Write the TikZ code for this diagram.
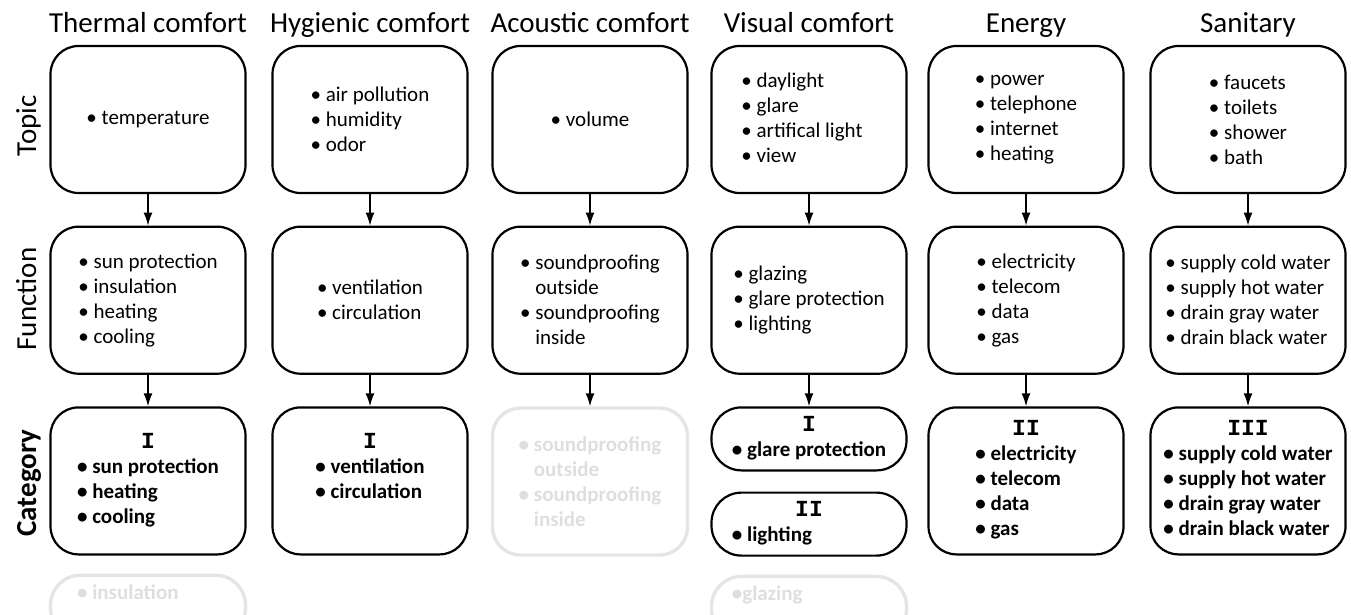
\documentclass[tikz,border=0pt]{standalone}
\usepackage{fontspec}
\setmainfont{Carlito}
\newfontfamily\romanfont{Liberation Mono}
\usetikzlibrary{arrows.meta,positioning}

\newcommand{\rnum}[1]{\multicolumn{1}{@{}c@{}}{\romanfont\bfseries\fontsize{23}{25}\selectfont #1}}

\begin{document}
\begin{tikzpicture}[x=1pt,y=-1pt,
    box/.style={draw,line width=2.2pt,rounded corners=28pt,minimum width=195pt,minimum height=147pt,align=left,font=\fontsize{21}{25}\selectfont},
    catbox/.style={box,font=\fontsize{21}{25}\selectfont\bfseries},
    pill/.style={catbox,minimum height=63pt,rounded corners=30pt},
    ghost/.style={draw=black!10,text=black!13,line width=3.4pt},
    head/.style={anchor=base,font=\fontsize{29}{32}\selectfont},
    rowlabel/.style={anchor=base,rotate=90,font=\fontsize{29}{32}\selectfont},
    flow/.style={line width=1.5pt,-{Latex[length=13pt,width=9pt]}},
    node distance=31.5pt]

    \clip (0,0) rectangle (1351,614);

    % Headers
    \node[head] (h1) at (148,32) {Thermal comfort};
    \node[head] (h2) at (370,32) {Hygienic comfort};
    \node[head] (h3) at (590,32) {Acoustic comfort};
    \node[head] (h4) at (809,32) {Visual comfort};
    \node[head] (h5) at (1026,32) {Energy};
    \node[head] (h6) at (1248,32) {Sanitary};

    % Row labels
    \node[rowlabel] (lt) at (36,126) {Topic};
    \node[rowlabel] (lf) at (36,299) {Function};
    \node[rowlabel,font=\fontsize{29}{32}\selectfont\bfseries] (lc) at (36,483) {Category};

    % Topics
    \node[box] (t1) at (148,119.5) {• temperature};
    \node[box] (t2) at (370,119.5) {• air pollution\\• humidity\\• odor};
    \node[box] (t3) at (590,119.5) {• volume};
    \node[box] (t4) at (809,119.5) {\hspace*{-14pt}\begin{tabular}{@{}l@{}}• daylight\\• glare\\• artifical light\\• view\end{tabular}};
    \node[box] (t5) at (1026,119.5) {• power\\• telephone\\• internet\\• heating};
    \node[box] (t6) at (1248,119.5) {• faucets\\• toilets\\• shower\\• bath};

    % Functions
    \node[box,below=of t1] (f1) {• sun protection\\• insulation\\• heating\\• cooling};
    \node[box,below=of t2] (f2) {• ventilation\\• circulation};
    \node[box,below=of t3] (f3) {• soundproofing\\\phantom{• }outside\\• soundproofing\\\phantom{• }inside};
    \node[box,below=of t4] (f4) {• glazing\\• glare protection\\• lighting};
    \node[box,below=of t5] (f5) {• electricity\\• telecom\\• data\\• gas};
    \node[box,below=of t6] (f6) {• supply cold water\\• supply hot water\\• drain gray water\\• drain black water};

    % Categories
    \node[catbox,below=of f1] (c1) {\begin{tabular}{@{}l@{}}\rnum{I}\\• sun protection\\• heating\\• cooling\end{tabular}};
    \node[catbox,below=of f2] (c2) {\begin{tabular}{@{}l@{}}\rnum{I}\\• ventilation\\• circulation\\\mbox{}\end{tabular}};
    \node[catbox,ghost,below=of f3] (c3) {• soundproofing\\\phantom{• }outside\\• soundproofing\\\phantom{• }inside};
    \node[pill,below=of f4] (c4) {\begin{tabular}{@{}l@{}}\rnum{I}\\• glare protection\end{tabular}};
    \node[pill,below=20pt of c4] (c4b) {\begin{tabular}{@{}l@{}}\rnum{II}\\\rlap{• lighting}\phantom{• glare protection}\end{tabular}};
    \node[catbox,below=of f5] (c5) {\begin{tabular}{@{}l@{}}\rnum{II}\\• electricity\\• telecom\\• data\\• gas\end{tabular}};
    \node[catbox,below=of f6] (c6) {\begin{tabular}{@{}l@{}}\rnum{III}\\• supply cold water\\• supply hot water\\• drain gray water\\• drain black water\end{tabular}};

    % Left out
    \node[pill,ghost,below=18pt of c1] (g1) {\begin{tabular}{@{}l@{}}\rlap{• insulation}\phantom{• sun protection}\\\mbox{}\end{tabular}};
    \node[pill,ghost,below=18pt of c4b] (g4) {\begin{tabular}{@{}l@{}}\rlap{•glazing}\phantom{• glare protection}\\\mbox{}\end{tabular}};

    % Arrows
    \foreach \i in {1,...,6} {
        \draw[flow] (t\i) -- (f\i);
        \draw[flow] (f\i) -- (c\i);
    }
\end{tikzpicture}
\end{document}
